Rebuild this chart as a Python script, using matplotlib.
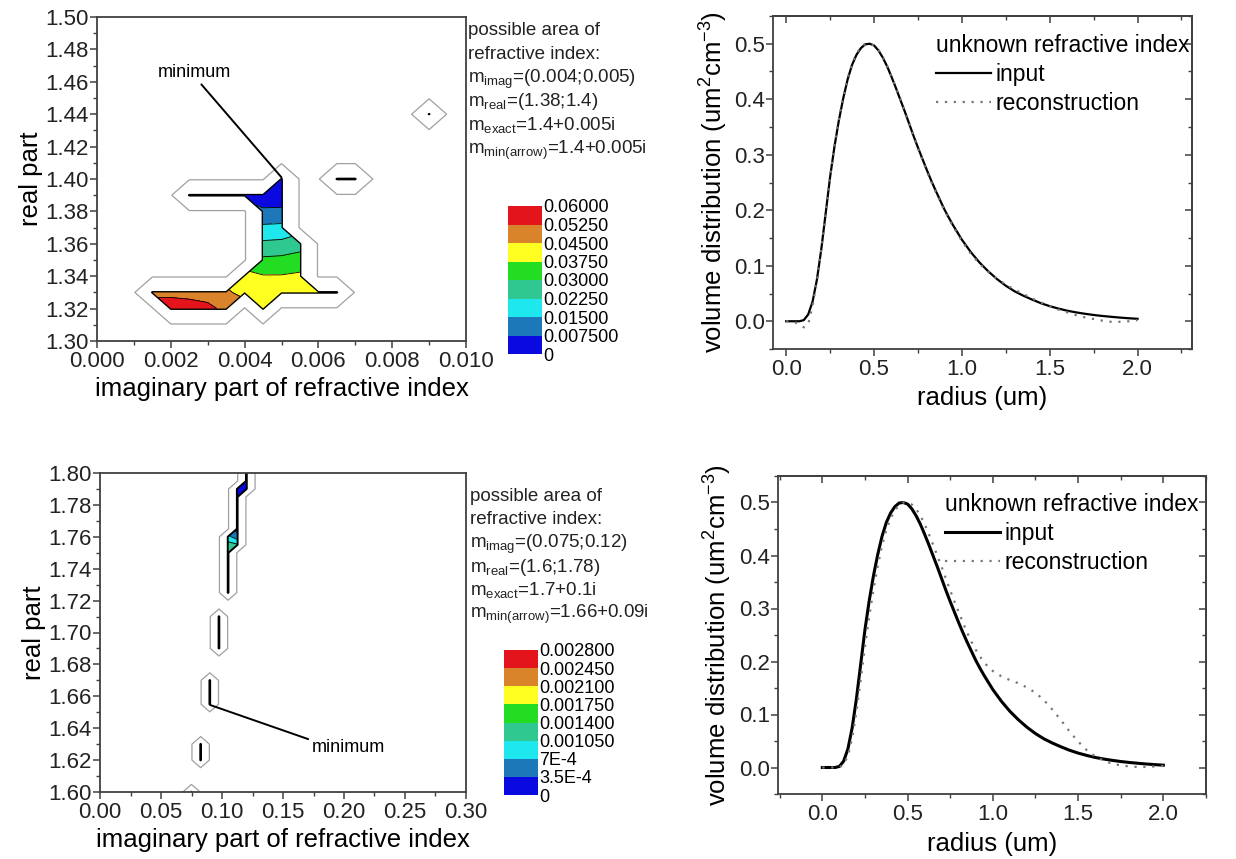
import numpy as np
import matplotlib
matplotlib.use('Agg')
import matplotlib.pyplot as plt
from matplotlib.ticker import MultipleLocator, FormatStrFormatter

plt.rcParams['font.family'] = 'Liberation Sans'
plt.rcParams['mathtext.fontset'] = 'custom'
plt.rcParams['mathtext.rm'] = 'Liberation Sans'
plt.rcParams['mathtext.it'] = 'Liberation Sans:italic'

# colour bands of both maps, low -> high
band_colors = ['#0a0ae0', '#1c78b8', '#1ee8ee', '#2ec890',
               '#22dd22', '#ffff22', '#d9832a', '#e3141c']

# upper map: grid nodes where the error was computed
top_imag = [0.009,
            0.005, 0.0065, 0.007,
            0.0025, 0.003, 0.0035, 0.004, 0.0045, 0.005,
            0.0045, 0.005,
            0.0045, 0.005,
            0.0045, 0.005, 0.0055,
            0.0045, 0.005, 0.0055,
            0.004, 0.0045, 0.005, 0.0055,
            0.0015, 0.002, 0.0025, 0.003, 0.0035, 0.004, 0.0045, 0.005, 0.0055, 0.006, 0.0065,
            0.002, 0.0025, 0.003, 0.0035, 0.0045]
top_real = [1.44,
            1.40, 1.40, 1.40,
            1.39, 1.39, 1.39, 1.39, 1.39, 1.39,
            1.38, 1.38,
            1.37, 1.37,
            1.36, 1.36, 1.36,
            1.35, 1.35, 1.35,
            1.34, 1.34, 1.34, 1.34,
            1.33, 1.33, 1.33, 1.33, 1.33, 1.33, 1.33, 1.33, 1.33, 1.33, 1.33,
            1.32, 1.32, 1.32, 1.32, 1.32]
top_err = [0.07,
           0.001, 0.07, 0.07,
           0.07, 0.07, 0.07, 0.006, 0.004, 0.003,
           0.0085, 0.009,
           0.0166, 0.017,
           0.024, 0.0245, 0.027,
           0.0315, 0.032, 0.033,
           0.040, 0.038, 0.038, 0.039,
           0.050, 0.050, 0.050, 0.050, 0.046, 0.043, 0.042, 0.042, 0.043, 0.044, 0.07,
           0.058, 0.056, 0.054, 0.051, 0.044]
top_levels = [0, 0.0075, 0.015, 0.0225, 0.03, 0.0375, 0.045, 0.0525, 0.06]
top_level_labels = ['0', '0.007500', '0.01500', '0.02250', '0.03000',
                    '0.03750', '0.04500', '0.05250', '0.06000']
top_notes = ['possible area of', 'refractive index:',
             r'm$_{\mathrm{imag}}$=(0.004;0.005)', r'm$_{\mathrm{real}}$=(1.38;1.4)',
             r'm$_{\mathrm{exact}}$=1.4+0.005i', r'm$_{\mathrm{min(arrow)}}$=1.4+0.005i']

# lower map
bot_imag = [0.075,
            0.0825, 0.0825, 0.0825,
            0.09, 0.09, 0.09, 0.09,
            0.0975, 0.0975, 0.0975, 0.0975, 0.0975,
            0.105, 0.105, 0.105, 0.105, 0.105, 0.105, 0.105, 0.105,
            0.1125, 0.1125, 0.1125, 0.1125, 0.1125, 0.1125, 0.1125, 0.1125,
            0.12, 0.12, 0.12]
bot_real = [1.60,
            1.62, 1.625, 1.63,
            1.655, 1.66, 1.665, 1.67,
            1.69, 1.695, 1.70, 1.705, 1.71,
            1.725, 1.73, 1.735, 1.74, 1.745, 1.75, 1.755, 1.76,
            1.755, 1.76, 1.765, 1.77, 1.775, 1.78, 1.785, 1.79,
            1.79, 1.795, 1.80]
bot_err = [0.0032,
           0.0032, 0.0031, 0.0032,
           0.0030, 0.0031, 0.0031, 0.0032,
           0.0032, 0.0032, 0.0031, 0.0032, 0.0032,
           0.0032, 0.0032, 0.0032, 0.0032, 0.0032, 0.0013, 0.0012, 0.0008,
           0.0011, 0.0005, 0.0002, 0.0031, 0.0031, 0.0031, 0.0003, 0.0002,
           0.0002, 0.0002, 0.0001]
bot_levels = [0, 0.00035, 0.0007, 0.00105, 0.0014, 0.00175, 0.0021, 0.00245, 0.0028]
bot_level_labels = ['0', '3.5E-4', '7E-4', '0.001050', '0.001400',
                    '0.001750', '0.002100', '0.002450', '0.002800']
bot_notes = ['possible area of', 'refractive index:',
             r'm$_{\mathrm{imag}}$=(0.075;0.12)', r'm$_{\mathrm{real}}$=(1.6;1.78)',
             r'm$_{\mathrm{exact}}$=1.7+0.1i', r'm$_{\mathrm{min(arrow)}}$=1.66+0.09i']

# size distributions: fine steps up to 1 um, coarser in the tail
radius = np.concatenate([np.linspace(0, 1, 41), np.linspace(1.05, 2, 20)])
dist_input = [0.0, 0.0, 0.0, 0.0, 0.002, 0.012, 0.035, 0.075, 0.13, 0.195,
              0.26, 0.315, 0.362, 0.402, 0.436, 0.462, 0.480, 0.492, 0.499, 0.500,
              0.497, 0.488, 0.475, 0.459, 0.440, 0.420, 0.399, 0.378, 0.356, 0.334,
              0.313, 0.293, 0.273, 0.254, 0.236, 0.219, 0.202, 0.187, 0.173, 0.160,
              0.147,
              0.125, 0.106, 0.090, 0.076, 0.064, 0.054, 0.046, 0.039, 0.0325, 0.0272,
              0.0228, 0.019, 0.016, 0.0135, 0.0113, 0.0095, 0.008, 0.0066, 0.0054, 0.0044]
top_recon = [0.0, 0.0, -0.002, -0.006, -0.011, -0.006, 0.028, 0.072, 0.13, 0.195,
             0.26, 0.316, 0.364, 0.404, 0.438, 0.464, 0.482, 0.494, 0.500, 0.500,
             0.497, 0.489, 0.476, 0.460, 0.441, 0.421, 0.400, 0.378, 0.356, 0.334,
             0.312, 0.291, 0.271, 0.252, 0.234, 0.217, 0.200, 0.185, 0.171, 0.158,
             0.145,
             0.122, 0.104, 0.089, 0.077, 0.066, 0.057, 0.049, 0.041, 0.034, 0.027,
             0.021, 0.016, 0.011, 0.007, 0.004, 0.001, -0.001, -0.001, 0.0, 0.002]
bot_recon = [0.0, 0.0, 0.0, 0.0, 0.0, 0.006, 0.022, 0.055, 0.105, 0.165,
             0.228, 0.285, 0.336, 0.38, 0.418, 0.448, 0.47, 0.485, 0.495, 0.5,
             0.5, 0.496, 0.488, 0.475, 0.459, 0.44, 0.42, 0.399, 0.378, 0.356,
             0.334, 0.313, 0.293, 0.273, 0.254, 0.237, 0.222, 0.209, 0.198, 0.189,
             0.182,
             0.172, 0.165, 0.159, 0.151, 0.141, 0.127, 0.109, 0.089, 0.068, 0.049,
             0.033, 0.021, 0.013, 0.007, 0.004, 0.002, 0.001, 0.001, 0.002, 0.003]

EDGE = '#404040'


def build_grid(xs, ys, zs, x_max, y_min, y_max, n):
    gx = np.linspace(0, x_max, n)
    gy = np.linspace(y_min, y_max, n)
    z = np.full((n, n), np.nan)
    ix = np.rint(np.asarray(xs) / (gx[1] - gx[0])).astype(int)
    iy = np.rint((np.asarray(ys) - y_min) / (gy[1] - gy[0])).astype(int)
    z[iy, ix] = zs
    return gx, gy, z


def draw_map(ax, cax, gx, gy, z, levels, labels, line_w):
    zm = np.ma.masked_invalid(z)
    defined = np.where(np.isnan(z), 1.0, 0.0)
    cf = ax.contourf(gx, gy, zm, levels=levels, colors=band_colors, corner_mask=True)
    ax.contour(gx, gy, zm, levels=levels[1:-1], colors='black', linewidths=0.6)
    ax.contour(gx, gy, defined, levels=[0.04], colors='black', linewidths=line_w)
    ax.contour(gx, gy, defined, levels=[0.95], colors='#a0a0a0', linewidths=0.9)
    cb = plt.colorbar(cf, cax=cax, ticks=levels)
    cb.ax.set_yticklabels(labels)
    cb.outline.set_visible(False)
    cb.ax.tick_params(length=0, labelsize=13, pad=1)


def style_axes(ax, xmaj, xmin, xfmt, ymaj, ymin, yfmt, boxed):
    ax.xaxis.set_major_locator(MultipleLocator(xmaj))
    ax.xaxis.set_minor_locator(MultipleLocator(xmin))
    ax.yaxis.set_major_locator(MultipleLocator(ymaj))
    ax.yaxis.set_minor_locator(MultipleLocator(ymin))
    ax.xaxis.set_major_formatter(FormatStrFormatter(xfmt))
    ax.yaxis.set_major_formatter(FormatStrFormatter(yfmt))
    ax.tick_params(which='both', direction='out', colors=EDGE, labelcolor='#222222',
                   labelsize=16, pad=1)
    ax.tick_params(axis='x', pad=2.5)
    ax.tick_params(which='major', length=5, width=1.1)
    ax.tick_params(which='minor', length=3, width=1.0)
    for s in ax.spines.values():
        s.set_color(EDGE)
        s.set_linewidth(1.3)
    if boxed:
        top = ax.secondary_xaxis('top')
        right = ax.secondary_yaxis('right')
        for sec, axis in ((top, top.xaxis), (right, right.yaxis)):
            axis.set_major_locator(MultipleLocator(xmaj if sec is top else ymaj))
            axis.set_minor_locator(MultipleLocator(xmin if sec is top else ymin))
            sec.tick_params(which='both', direction='in', colors=EDGE,
                            labelleft=False, labelright=False,
                            labeltop=False, labelbottom=False)
            sec.tick_params(which='major', length=5, width=1.1)
            sec.tick_params(which='minor', length=3, width=1.0)
            for s in sec.spines.values():
                s.set_color(EDGE)
                s.set_linewidth(1.3)


fig = plt.figure(figsize=(12.36, 8.59), dpi=100)
W, H = 1236.0, 859.0


def rect(x0, y0, x1, y1):
    return [x0 / W, 1 - y1 / H, (x1 - x0) / W, (y1 - y0) / H]


# upper refractive index map
ax1 = fig.add_axes(rect(97, 17, 466, 341))
cax1 = fig.add_axes(rect(508, 206, 542, 354))
gx, gy, z = build_grid(top_imag, top_real, top_err, 0.01, 1.30, 1.50, 21)
draw_map(ax1, cax1, gx, gy, z, top_levels, top_level_labels, 1.0)
ax1.set_xlim(0, 0.01)
ax1.set_ylim(1.30, 1.50)
style_axes(ax1, 0.002, 0.001, '%.3f', 0.02, 0.01, '%.2f', False)
ax1.set_xlabel('imaginary part of refractive index', fontsize=18.5, labelpad=3)
ax1.set_ylabel('real part', fontsize=18.5, labelpad=2)
ax1.annotate('minimum', xy=(0.005, 1.401), xytext=(0.00264, 1.466),
             ha='center', va='center', fontsize=13,
             arrowprops=dict(arrowstyle='-', color='black', lw=1.4,
                             relpos=(0.55, 0.0), shrinkA=1, shrinkB=0))
for k, line in enumerate(top_notes):
    fig.text(468 / W, 1 - (35 + 23.8 * k) / H, line, fontsize=13.5, va='baseline',
             color='#222222')

# lower refractive index map
ax3 = fig.add_axes(rect(100, 473, 466, 792))
cax3 = fig.add_axes(rect(504, 650, 538, 795))
gx, gy, z = build_grid(bot_imag, bot_real, bot_err, 0.3, 1.60, 1.80, 41)
draw_map(ax3, cax3, gx, gy, z, bot_levels, bot_level_labels, 1.4)
ax3.set_xlim(0, 0.3)
ax3.set_ylim(1.60, 1.80)
style_axes(ax3, 0.05, 0.025, '%.2f', 0.02, 0.01, '%.2f', False)
ax3.set_xlabel('imaginary part of refractive index', fontsize=18.5, labelpad=3)
ax3.set_ylabel('real part', fontsize=18.5, labelpad=2)
ax3.annotate('minimum', xy=(0.0905, 1.6545), xytext=(0.174, 1.628),
             ha='left', va='center', fontsize=13,
             arrowprops=dict(arrowstyle='-', color='black', lw=1.4,
                             relpos=(0.0, 0.9), shrinkA=1, shrinkB=0))
for k, line in enumerate(bot_notes):
    fig.text(470 / W, 1 - (501 + 23.5 * k) / H, line, fontsize=13.5, va='baseline',
             color='#222222')

# size distributions
for r, recon, lw_in, lim, xpad in ((rect(773, 16, 1192, 349), top_recon, 1.6, (-0.075, 2.31), 4),
                                   (rect(778, 476, 1206, 794), bot_recon, 2.2, (-0.26, 2.25), 5)):
    ax = fig.add_axes(r)
    ax.plot(radius, dist_input, color='black', lw=lw_in, label='input')
    ax.plot(radius, recon, color='#777777', lw=1.6, ls=(0, (1, 3)),
            label='reconstruction')
    ax.set_xlim(*lim)
    ax.set_ylim(-0.05, 0.55)
    style_axes(ax, 0.5, 0.25, '%.1f', 0.1, 0.05, '%.1f', True)
    ax.set_xlabel('radius (um)', fontsize=18.5, labelpad=xpad)
    ax.set_ylabel(r'volume distribution (um$^2$cm$^{-3}$)', fontsize=18.5, labelpad=3)
    ax.legend(title='unknown refractive index', loc='upper left',
              bbox_to_anchor=(0.39, 0.945), frameon=False, fontsize=16.5,
              title_fontsize=16.5, handlelength=2.4, handletextpad=0.2,
              labelspacing=0.25, borderpad=0, borderaxespad=0, alignment='left')

fig.savefig('out.png', dpi=100)
